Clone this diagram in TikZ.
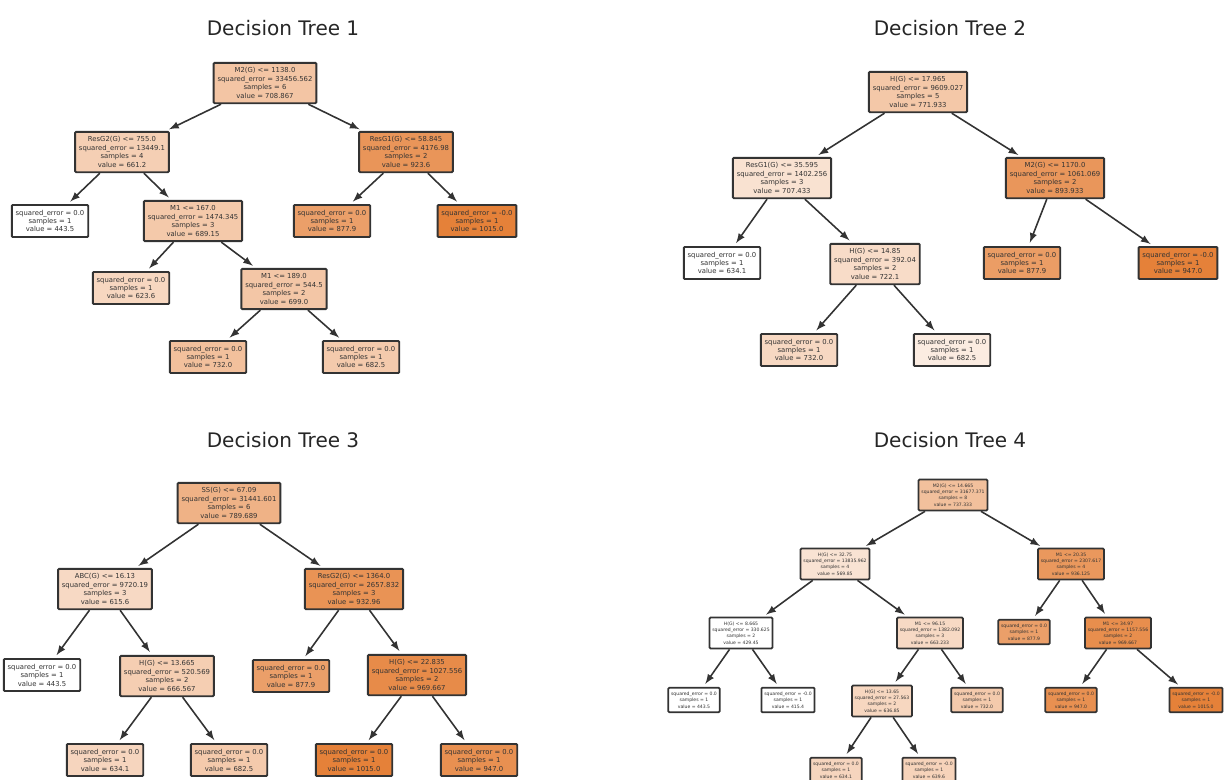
\documentclass[tikz,border=0pt]{standalone}
\usepackage{fontspec}
\setmainfont{DejaVu Sans}
\usepackage{xcolor}
\usepackage{tikz}
\definecolor{orng}{HTML}{E58139}
\definecolor{edgegray}{HTML}{333333}

\begin{document}
\begin{tikzpicture}[x=0.02cm,y=-0.02cm,
    title/.style={font=\fontsize{11.4}{13}\selectfont,text=black!85},
    box/.style={draw=edgegray,line width=1.1pt,rounded corners=0.6pt,align=center,
        font=\fontsize{3.9}{4.8}\selectfont,text=black!80,
        inner xsep=2.2pt,inner ysep=2.8pt},
    % tree 4 is drawn smaller
    sbox/.style={box,font=\fontsize{2.6}{3.6}\selectfont,
        inner xsep=1.6pt,inner ysep=2.4pt,line width=1pt},
    lvl/.style={fill=orng!#1!white},
    edge/.style={-latex,line width=0.9pt,draw=edgegray,shorten >=2pt},
    ]
    \useasboundingbox (0,0) rectangle (1225,779);

    % Titles
    \node[title] (title1) at (283,28)  {Decision Tree 1};
    \node[title] (title2) at (950,28)  {Decision Tree 2};
    \node[title] (title3) at (283,440) {Decision Tree 3};
    \node[title] (title4) at (950,440) {Decision Tree 4};

    % Tree 1
    \node[box,lvl=46] (t1root) at (265,83)
        {M2(G) <= 1138.0\\squared\_error = 33456.562\\samples = 6\\value = 708.867};
    \node[box,lvl=38] (t1l) at (122,152)
        {ResG2(G) <= 755.0\\squared\_error = 13449.1\\samples = 4\\value = 661.2};
    \node[box,lvl=84] (t1r) at (406,152)
        {ResG1(G) <= 58.845\\squared\_error = 4176.98\\samples = 2\\value = 923.6};
    \node[box,lvl=0] (t1ll) at (50,221)
        {squared\_error = 0.0\\samples = 1\\value = 443.5};
    \node[box,lvl=43] (t1lr) at (193,221)
        {M1 <= 167.0\\squared\_error = 1474.345\\samples = 3\\value = 689.15};
    \node[box,lvl=76] (t1rl) at (332,221)
        {squared\_error = 0.0\\samples = 1\\value = 877.9};
    \node[box,lvl=100] (t1rr) at (477,221)
        {squared\_error = -0.0\\samples = 1\\value = 1015.0};
    \node[box,lvl=32] (t1lrl) at (131,288)
        {squared\_error = 0.0\\samples = 1\\value = 623.6};
    \node[box,lvl=45] (t1lrr) at (284,289)
        {M1 <= 189.0\\squared\_error = 544.5\\samples = 2\\value = 699.0};
    \node[box,lvl=50] (t1lrrl) at (208,357)
        {squared\_error = 0.0\\samples = 1\\value = 732.0};
    \node[box,lvl=42] (t1lrrr) at (361,357)
        {squared\_error = 0.0\\samples = 1\\value = 682.5};
    \foreach \a/\b in {t1root/t1l,t1root/t1r,t1l/t1ll,t1l/t1lr,t1r/t1rl,t1r/t1rr,
                       t1lr/t1lrl,t1lr/t1lrr,t1lrr/t1lrrl,t1lrr/t1lrrr}
        \draw[edge] (\a) -- (\b);

    % Tree 2
    \node[box,lvl=44] (t2root) at (918,92)
        {H(G) <= 17.965\\squared\_error = 9609.027\\samples = 5\\value = 771.933};
    \node[box,lvl=23] (t2l) at (782,178)
        {ResG1(G) <= 35.595\\squared\_error = 1402.256\\samples = 3\\value = 707.433};
    \node[box,lvl=83] (t2r) at (1055,178)
        {M2(G) <= 1170.0\\squared\_error = 1061.069\\samples = 2\\value = 893.933};
    \node[box,lvl=0] (t2ll) at (722,263)
        {squared\_error = 0.0\\samples = 1\\value = 634.1};
    \node[box,lvl=28] (t2lr) at (875,264)
        {H(G) <= 14.85\\squared\_error = 392.04\\samples = 2\\value = 722.1};
    \node[box,lvl=78] (t2rl) at (1022,263)
        {squared\_error = 0.0\\samples = 1\\value = 877.9};
    \node[box,lvl=100] (t2rr) at (1178,263)
        {squared\_error = -0.0\\samples = 1\\value = 947.0};
    \node[box,lvl=31] (t2lrl) at (799,350)
        {squared\_error = 0.0\\samples = 1\\value = 732.0};
    \node[box,lvl=15] (t2lrr) at (952,350)
        {squared\_error = 0.0\\samples = 1\\value = 682.5};
    \foreach \a/\b in {t2root/t2l,t2root/t2r,t2l/t2ll,t2l/t2lr,t2r/t2rl,t2r/t2rr,
                       t2lr/t2lrl,t2lr/t2lrr}
        \draw[edge] (\a) -- (\b);

    % Tree 3
    \node[box,lvl=61] (t3root) at (229,503)
        {SS(G) <= 67.09\\squared\_error = 31441.601\\samples = 6\\value = 789.689};
    \node[box,lvl=30] (t3l) at (105,589)
        {ABC(G) <= 16.13\\squared\_error = 9720.19\\samples = 3\\value = 615.6};
    \node[box,lvl=86] (t3r) at (354,589)
        {ResG2(G) <= 1364.0\\squared\_error = 2657.832\\samples = 3\\value = 932.96};
    \node[box,lvl=0] (t3ll) at (42,675)
        {squared\_error = 0.0\\samples = 1\\value = 443.5};
    \node[box,lvl=39] (t3lr) at (167,676)
        {H(G) <= 13.665\\squared\_error = 520.569\\samples = 2\\value = 666.567};
    \node[box,lvl=76] (t3rl) at (291,676)
        {squared\_error = 0.0\\samples = 1\\value = 877.9};
    \node[box,lvl=92] (t3rr) at (417,675)
        {H(G) <= 22.835\\squared\_error = 1027.556\\samples = 2\\value = 969.667};
    \node[box,lvl=33] (t3lrl) at (105,760)
        {squared\_error = 0.0\\samples = 1\\value = 634.1};
    \node[box,lvl=42] (t3lrr) at (229,760)
        {squared\_error = 0.0\\samples = 1\\value = 682.5};
    \node[box,lvl=100] (t3rrl) at (354,760)
        {squared\_error = 0.0\\samples = 1\\value = 1015.0};
    \node[box,lvl=88] (t3rrr) at (479,760)
        {squared\_error = 0.0\\samples = 1\\value = 947.0};
    \foreach \a/\b in {t3root/t3l,t3root/t3r,t3l/t3ll,t3l/t3lr,t3r/t3rl,t3r/t3rr,
                       t3lr/t3lrl,t3lr/t3lrr,t3rr/t3rrl,t3rr/t3rrr}
        \draw[edge] (\a) -- (\b);

    % Tree 4
    \node[sbox,lvl=50] (t4root) at (953,495)
        {M2(G) <= 14.665\\squared\_error = 31677.371\\samples = 8\\value = 737.333};
    \node[sbox,lvl=22] (t4l) at (835,564)
        {H(G) <= 32.75\\squared\_error = 13835.962\\samples = 4\\value = 569.85};
    \node[sbox,lvl=82] (t4r) at (1071,564)
        {M1 <= 20.35\\squared\_error = 2307.617\\samples = 4\\value = 936.125};
    \node[sbox,lvl=0] (t4ll) at (741,633)
        {H(G) <= 8.665\\squared\_error = 330.625\\samples = 2\\value = 429.45};
    \node[sbox,lvl=30] (t4lr) at (930,633)
        {M1 <= 96.15\\squared\_error = 1382.092\\samples = 3\\value = 663.233};
    \node[sbox,lvl=76] (t4rl) at (1024,632)
        {squared\_error = 0.0\\samples = 1\\value = 877.9};
    \node[sbox,lvl=90] (t4rr) at (1118,633)
        {M1 <= 34.97\\squared\_error = 1157.556\\samples = 2\\value = 969.667};
    \node[sbox,lvl=0] (t4lll) at (694,700)
        {squared\_error = 0.0\\samples = 1\\value = 443.5};
    \node[sbox,lvl=0] (t4llr) at (788,700)
        {squared\_error = -0.0\\samples = 1\\value = 415.4};
    \node[sbox,lvl=32] (t4lrl) at (882,701)
        {H(G) <= 13.65\\squared\_error = 27.563\\samples = 2\\value = 636.85};
    \node[sbox,lvl=42] (t4lrr) at (977,700)
        {squared\_error = 0.0\\samples = 1\\value = 732.0};
    \node[sbox,lvl=88] (t4rrl) at (1071,700)
        {squared\_error = 0.0\\samples = 1\\value = 947.0};
    \node[sbox,lvl=100] (t4rrr) at (1196,700)
        {squared\_error = -0.0\\samples = 1\\value = 1015.0};
    \node[sbox,lvl=33] (t4lrll) at (836,770)
        {squared\_error = 0.0\\samples = 1\\value = 634.1};
    \node[sbox,lvl=35] (t4lrlr) at (929,770)
        {squared\_error = -0.0\\samples = 1\\value = 639.6};
    \foreach \a/\b in {t4root/t4l,t4root/t4r,t4l/t4ll,t4l/t4lr,t4r/t4rl,t4r/t4rr,
                       t4ll/t4lll,t4ll/t4llr,t4lr/t4lrl,t4lr/t4lrr,t4rr/t4rrl,
                       t4rr/t4rrr,t4lrl/t4lrll,t4lrl/t4lrlr}
        \draw[edge] (\a) -- (\b);
\end{tikzpicture}
\end{document}
